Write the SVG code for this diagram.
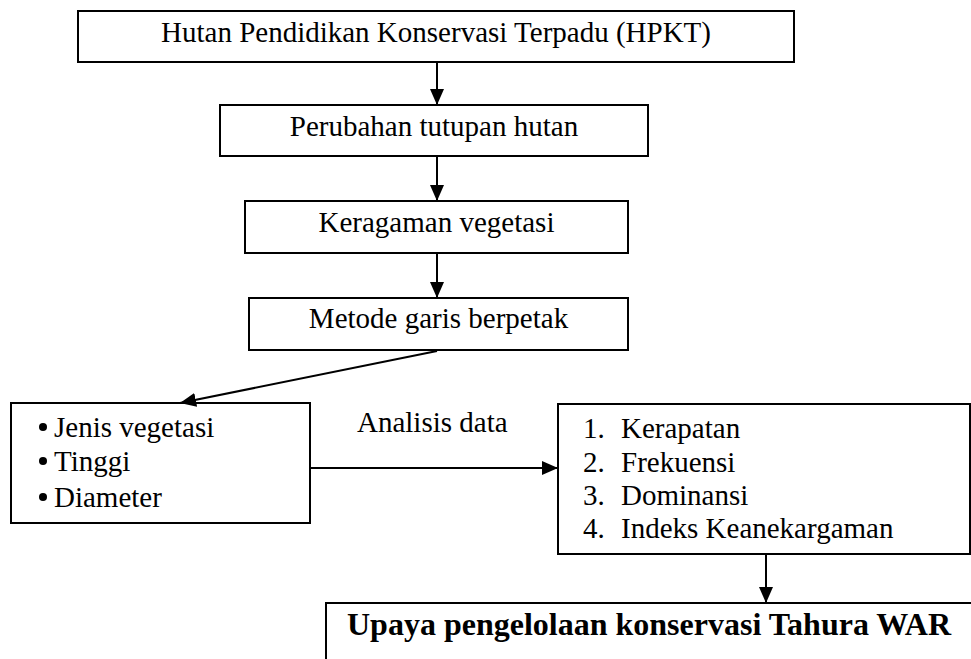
<svg xmlns="http://www.w3.org/2000/svg" width="971" height="659" viewBox="0 0 971 659">
<style>
.box{fill:#fff;stroke:#000;stroke-width:2}
text{font-family:'Liberation Serif','Times New Roman',Tinos,'DejaVu Serif','Noto Serif',serif;font-size:29px;fill:#000}
.c{text-anchor:middle}
.b{font-weight:bold;font-size:32px}
.con{stroke:#000;stroke-width:2;fill:none}
</style>
<defs>
<marker id="ah" markerUnits="userSpaceOnUse" markerWidth="16" markerHeight="14" refX="16" refY="7" orient="auto">
<path d="M0,0 L16,7 L0,14 z" fill="#000"/>
</marker>
</defs>
<rect width="971" height="659" fill="#fff"/>
<g font-family="Liberation Serif, Times New Roman, DejaVu Serif, serif">
<g id="n1"><rect class="box" x="78" y="11" width="716" height="51"/><text class="c" x="436" y="42">Hutan Pendidikan Konservasi Terpadu (HPKT)</text></g>
<g id="n2"><rect class="box" x="220" y="105" width="428" height="51"/><text class="c" x="434" y="136">Perubahan tutupan hutan</text></g>
<g id="n3"><rect class="box" x="245" y="201" width="383" height="52"/><text class="c" x="436.5" y="232">Keragaman vegetasi</text></g>
<g id="n4"><rect class="box" x="249" y="298" width="379" height="52"/><text class="c" x="438.5" y="328">Metode garis berpetak</text></g>
<g id="n5"><rect class="box" x="11" y="403" width="299" height="120"/>
<circle cx="43" cy="427" r="4"/><text x="54" y="437">Jenis vegetasi</text>
<circle cx="43" cy="461" r="4"/><text x="54" y="471">Tinggi</text>
<circle cx="43" cy="497" r="4"/><text x="54" y="507">Diameter</text></g>
<g id="n6"><rect class="box" x="558" y="404" width="412" height="150"/>
<text x="583" y="438">1.</text><text x="621" y="438">Kerapatan</text>
<text x="583" y="472">2.</text><text x="621" y="472">Frekuensi</text>
<text x="583" y="505">3.</text><text x="621" y="505">Dominansi</text>
<text x="583" y="538">4.</text><text x="621" y="538">Indeks Keanekargaman</text></g>
<g id="n7"><rect class="box" x="326" y="603" width="660" height="100"/><text class="b" x="347" y="635">Upaya pengelolaan konservasi Tahura WAR</text></g>
<text id="lbl" x="357" y="432">Analisis data</text>
</g>
<g id="connectors">
<line class="con" x1="437" y1="62" x2="437" y2="105" marker-end="url(#ah)"/>
<line class="con" x1="437" y1="156" x2="437" y2="201" marker-end="url(#ah)"/>
<line class="con" x1="437" y1="253" x2="437" y2="298" marker-end="url(#ah)"/>
<line class="con" x1="437" y1="351" x2="180" y2="403" marker-end="url(#ah)"/>
<line class="con" x1="310" y1="468" x2="558" y2="468" marker-end="url(#ah)"/>
<line class="con" x1="766" y1="554" x2="766" y2="603" marker-end="url(#ah)"/>
</g>
</svg>
